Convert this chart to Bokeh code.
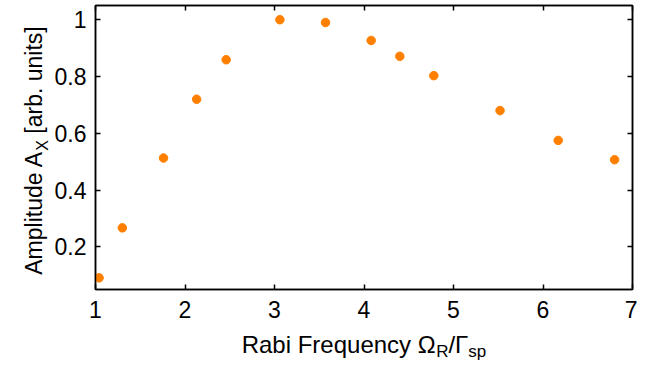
import math
from bokeh.plotting import figure
from bokeh.layouts import row, column
from bokeh.models import (Range1d, LinearAxis, FixedTicker, NumeralTickFormatter,
                          CustomJSTickFormatter, ColumnDataSource)
from bokeh.core.properties import value
from bokeh.embed import file_html
from bokeh.resources import INLINE

# ---- data ----
rabi_freq = [1.04, 1.30, 1.76, 2.13, 2.46, 3.06, 3.57, 4.08, 4.40, 4.78, 5.52, 6.17, 6.80]
amplitude = [0.091, 0.267, 0.513, 0.720, 0.859, 1.000, 0.990, 0.927, 0.871, 0.803, 0.680, 0.575, 0.507]
x_ticks = [1, 2, 3, 4, 5, 6, 7]
y_ticks = [0.2, 0.4, 0.6, 0.8, 1.0]
x_label_parts = ["Rabi Frequency Ω", "R", "/Γ", "sp"]   # main, sub, main, sub
y_label_parts = ["Amplitude A", "X", " [arb. units]"]    # main, sub, main

FONT = "Liberation Sans"
ORANGE = "#ff8000"

# Arial / Liberation Sans advance widths (per 1000 em)
ADV = {' ': 278, 'A': 667, 'F': 611, 'R': 722, 'X': 667, 'a': 556, 'b': 556, 'c': 500,
       'd': 556, 'e': 556, 'i': 222, 'l': 222, 'm': 833, 'n': 556, 'p': 556, 'q': 556,
       'r': 333, 's': 500, 't': 278, 'u': 556, 'y': 500, '.': 278, '[': 278, ']': 278,
       '/': 278, 'Ω': 768, 'Γ': 552}


def text_width(s, size):
    return sum(ADV.get(ch, 556) for ch in s) * size / 1000.0


# ---- layout geometry (pixels) ----
TOTAL_W, TOTAL_H = 637, 361
LEFT_W = 50          # strip holding the y label
MAIN_W = TOTAL_W - LEFT_W
MAIN_H = 326
BOTTOM_H = TOTAL_H - MAIN_H
FRAME_TOP, FRAME_BOTTOM = 5, 289

# ---- main plot ----
src = ColumnDataSource(data=dict(x=rabi_freq, y=amplitude))
p = figure(width=MAIN_W, height=MAIN_H, x_range=Range1d(1, 7), y_range=Range1d(0.05, 1.05),
           output_backend="svg", toolbar_location=None,
           min_border_left=95 - LEFT_W, min_border_right=5,
           min_border_top=FRAME_TOP, min_border_bottom=MAIN_H - FRAME_BOTTOM)
p.xgrid.visible = False
p.ygrid.visible = False
p.outline_line_color = "black"
p.outline_line_width = 1.5
p.background_fill_color = "white"
p.border_fill_color = "white"

p.scatter("x", "y", source=src, size=8.5, fill_color=ORANGE, line_color=ORANGE)


def style_axis(ax, ticks, standoff, font_size):
    ax.ticker = FixedTicker(ticks=ticks)
    ax.major_tick_in = 5
    ax.major_tick_out = 0
    ax.minor_tick_line_color = None
    ax.major_tick_line_width = 1.5
    ax.axis_line_width = 1.5
    ax.axis_line_color = "black"
    ax.major_tick_line_color = "black"
    ax.major_label_standoff = standoff
    ax.major_label_text_font = FONT
    ax.major_label_text_font_size = font_size
    ax.major_label_text_color = "black"


xb = p.xaxis[0]
style_axis(xb, x_ticks, 11, "23px")
xb.formatter = NumeralTickFormatter(format="0")
yl = p.yaxis[0]
style_axis(yl, y_ticks, 9, "23px")
yl.formatter = NumeralTickFormatter(format="0.[0]")

blank = "return ''"
xt = LinearAxis()
style_axis(xt, x_ticks, 0, "1px")
xt.formatter = CustomJSTickFormatter(code=blank)
p.add_layout(xt, "above")
yr = LinearAxis()
style_axis(yr, y_ticks, 0, "1px")
yr.formatter = CustomJSTickFormatter(code=blank)
p.add_layout(yr, "right")


def text_strip(w, h, x_range):
    f = figure(width=w, height=h, x_range=x_range, y_range=Range1d(0, h),
               x_axis_type=None, y_axis_type=None, output_backend="svg",
               toolbar_location=None, min_border=0)
    f.outline_line_color = None
    f.background_fill_color = "white"
    f.border_fill_color = "white"
    f.xgrid.visible = False
    f.ygrid.visible = False
    return f


def lead(t):
    # SVG collapses leading blanks: shift the anchor instead
    stripped = t.lstrip()
    return stripped, t[:len(t) - len(stripped)]


# ---- x axis label with subscripts (strip under the plot, same x frame) ----
bx = text_strip(MAIN_W, BOTTOM_H, p.x_range)
XM, XS = 24, 17
sizes_x = [XM, XS, XM, XS]
subs_x = [False, True, False, True]
widths_x = [text_width(t, s) for t, s in zip(x_label_parts, sizes_x)]
x_centre = (x_ticks[0] + x_ticks[-1]) / 2.0
off = -sum(widths_x) / 2.0
main_base = TOTAL_H - 344
sub_base = main_base - 7
for t, s, w, sub in zip(x_label_parts, sizes_x, widths_x, subs_x):
    shown, blanks = lead(t)
    bx.text(x=[x_centre], y=[sub_base if sub else main_base], text=[shown],
            x_offset=off + text_width(blanks, s),
            text_font=value(FONT), text_font_size=value(f"{s}px"), text_color="black",
            text_align="left", text_baseline="alphabetic")
    off += w

# ---- y axis label with subscript (strip left of the plot) ----
ly = text_strip(LEFT_W, TOTAL_H, Range1d(0, LEFT_W))
YM, YS = 23, 16
sizes_y = [YM, YS, YM]
subs_y = [False, True, False]
widths_y = [text_width(t, s) for t, s in zip(y_label_parts, sizes_y)]
centre_y = TOTAL_H - ((FRAME_TOP + FRAME_BOTTOM) / 2.0 + 3)
pos = centre_y - sum(widths_y) / 2.0
for t, s, w, sub in zip(y_label_parts, sizes_y, widths_y, subs_y):
    shown, blanks = lead(t)
    ly.text(x=[42 if sub else 33], y=[pos + text_width(blanks, s)], text=[shown],
            angle=math.pi / 2,
            text_font=value(FONT), text_font_size=value(f"{s}px"), text_color="black",
            text_align="left", text_baseline="alphabetic")
    pos += w

layout = row(ly, column(p, bx))
open("out.html", "w").write(file_html(layout, INLINE))
